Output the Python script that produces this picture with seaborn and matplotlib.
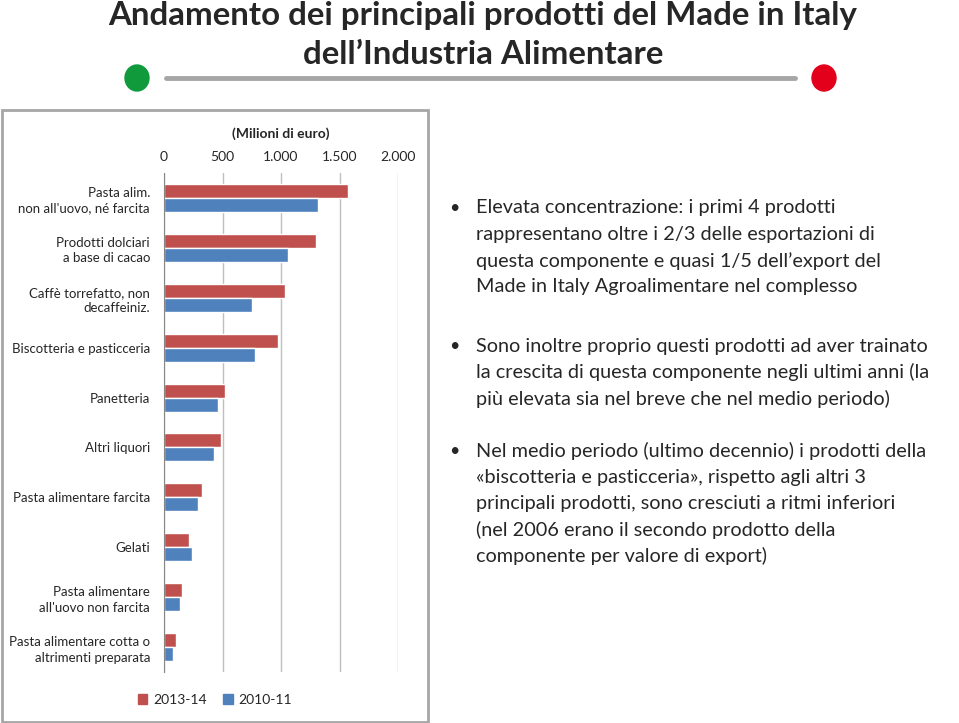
import matplotlib.pyplot as plt
import matplotlib.patches as mpatches
from matplotlib.lines import Line2D
import pandas as pd
import seaborn as sns

# Data (milioni di euro)
categories = [
    "Pasta alim.\nnon all'uovo, né farcita",
    "Prodotti dolciari\na base di cacao",
    "Caffè torrefatto, non\ndecaffeiniz.",
    "Biscotteria e pasticceria",
    "Panetteria",
    "Altri liquori",
    "Pasta alimentare farcita",
    "Gelati",
    "Pasta alimentare\nall'uovo non farcita",
    "Pasta alimentare cotta o\naltrimenti preparata",
]
values_2013_14 = [1572, 1298, 1030, 978, 525, 488, 322, 217, 154, 105]
values_2010_11 = [1312, 1059, 753, 782, 462, 425, 294, 243, 140, 77]
periods = ["2013-14", "2010-11"]
colors = ["#C0504D", "#4F81BD"]
x_ticks = [0, 500, 1000, 1500, 2000]

title_lines = [
    "Andamento dei principali prodotti del Made in Italy",
    "dell’Industria Alimentare",
]
bullets = [
    [
        "Elevata concentrazione: i primi 4 prodotti",
        "rappresentano oltre i 2/3 delle esportazioni di",
        "questa componente e quasi 1/5 dell’export del",
        "Made in Italy Agroalimentare nel complesso",
    ],
    [
        "Sono inoltre proprio questi prodotti ad aver trainato",
        "la crescita di questa componente negli ultimi anni (la",
        "più elevata sia nel breve che nel medio periodo)",
    ],
    [
        "Nel medio periodo (ultimo decennio) i prodotti della",
        "«biscotteria e pasticceria», rispetto agli altri 3",
        "principali prodotti, sono cresciuti a ritmi inferiori",
        "(nel 2006 erano il secondo prodotto della",
        "componente per valore di export)",
    ],
]

df = pd.DataFrame({
    "prodotto": categories * 2,
    "valore": values_2013_14 + values_2010_11,
    "periodo": [periods[0]] * len(categories) + [periods[1]] * len(categories),
})

sns.set_style("white")
plt.rcParams["font.family"] = ["Lato", "DejaVu Sans"]

W, H = 959, 723
fig = plt.figure(figsize=(W / 100, H / 100), dpi=100)


def fx(px):
    return px / W


def fy(py):
    return 1 - py / H


# chart frame
fig.patches.append(mpatches.Rectangle((fx(2), fy(722)), fx(426), 612 / H,
                                      transform=fig.transFigure, fill=False,
                                      ec="#A6A6A6", lw=2))

ax = fig.add_axes([fx(164), fy(672), fx(234), 499 / H])
sns.barplot(data=df, x="valore", y="prodotto", hue="periodo", orient="h",
            hue_order=periods, palette=colors, width=0.56, saturation=1,
            errorbar=None, legend=False, ax=ax)

ax.set_xlim(0, 2000)
ax.set_ylim(len(categories) - 0.5, -0.5)
ax.xaxis.tick_top()
ax.set_xticks(x_ticks)
ax.set_xticklabels([f"{v:,.0f}".replace(",", ".") for v in x_ticks], fontsize=10)
ax.tick_params(axis="x", length=0, pad=7)
ax.set_yticks(range(len(categories)))
ax.set_yticklabels(categories, fontsize=9.5, linespacing=1.35)
ax.tick_params(axis="y", which="major", length=0, pad=10)
ax.set_yticks([i - 0.5 for i in range(len(categories) + 1)], minor=True)
ax.tick_params(axis="y", which="minor", length=4, color="#868686", direction="out")
ax.set_xlabel("")
ax.set_ylabel("")
ax.grid(axis="x", color="#BFBFBF", lw=1)
ax.set_axisbelow(True)
for side in ["top", "right", "bottom"]:
    ax.spines[side].set_visible(False)
ax.spines["left"].set_color("#868686")

fig.text(fx(281), fy(134), "(Milioni di euro)", ha="center", va="center",
         fontsize=10, fontweight="bold")

handles = [mpatches.Patch(color=c, label=p) for c, p in zip(colors, periods)]
fig.legend(handles=handles, loc="center", bbox_to_anchor=(fx(215), fy(700)),
           ncol=2, frameon=False, fontsize=10, handlelength=0.7, handleheight=0.7,
           handletextpad=0.4, columnspacing=1.2)

# title and decorations
fig.text(fx(483), fy(16), title_lines[0], ha="center", va="center",
         fontsize=23.8, fontweight="bold")
fig.text(fx(483), fy(55), title_lines[1], ha="center", va="center",
         fontsize=23.8, fontweight="bold")
fig.add_artist(Line2D([fx(166), fx(795)], [fy(78), fy(78)], lw=3.5, color="#A6A6A6"))
fig.add_artist(mpatches.Ellipse((fx(137), fy(78)), fx(24), 26 / H, color="#109A3C"))
fig.add_artist(mpatches.Ellipse((fx(824), fy(78)), fx(24), 26 / H, color="#E3001B"))

# bullet text on the right
starts = [208, 346, 451]
for start, lines in zip(starts, bullets):
    fig.text(fx(454), fy(start), "•", ha="center", va="center", fontsize=13)
    for i, line in enumerate(lines):
        fig.text(fx(476), fy(start + i * 26.3), line, ha="left", va="center",
                 fontsize=14.3)

fig.savefig("out.png", dpi=100)
